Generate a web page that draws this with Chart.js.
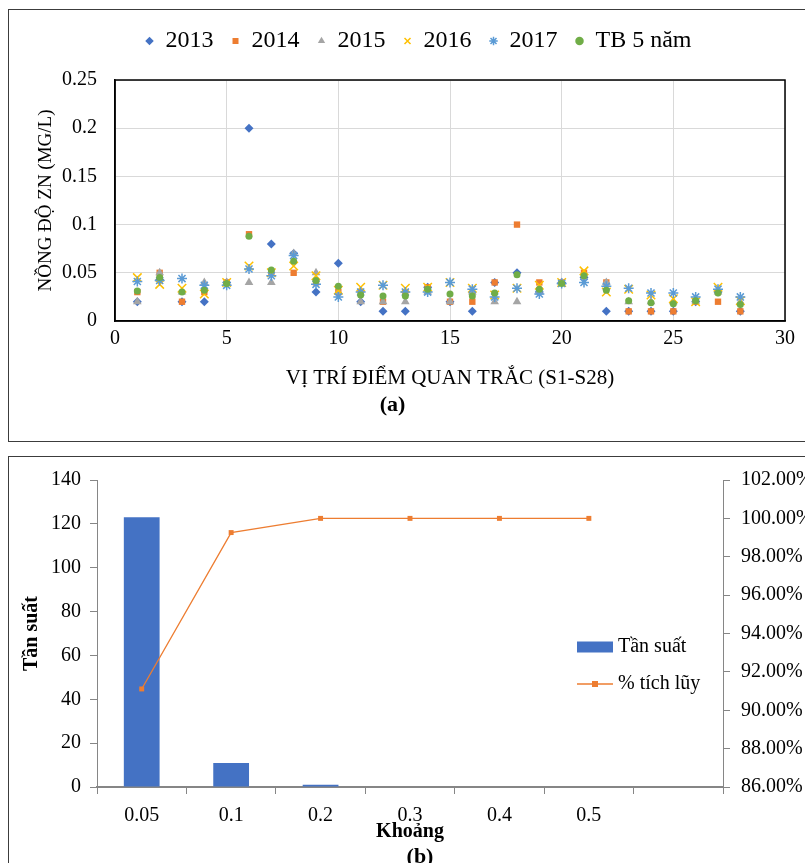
<!DOCTYPE html>
<html>
<head>
<meta charset="utf-8">
<script src="https://cdn.jsdelivr.net/npm/chart.js@4.4.1/dist/chart.umd.min.js"></script>
<style>
  html, body { margin: 0; padding: 0; background: #fff; width: 805px; height: 863px; overflow: hidden; position: relative; }
  .frame { position: absolute; left: 8px; width: 900px; border: 1px solid #3c3c3c; }
  #frameA { top: 9px; height: 431px; }
  #frameB { top: 456px; height: 500px; }
  canvas { position: absolute; left: 0; }
  #zincChart { top: 0; }
  #histChart { top: 456px; }
</style>
</head>
<body>
<div class="frame" id="frameA"></div>
<div class="frame" id="frameB"></div>
<canvas id="zincChart" width="805" height="445"></canvas>
<canvas id="histChart" width="840" height="430"></canvas>
<script>
// (a) Zn concentration at monitoring points S1-S28
const stations = [1, 2, 3, 4, 5, 6, 7, 8, 9, 10, 11, 12, 13, 14, 15, 16, 17, 18, 19, 20, 21, 22, 23, 24, 25, 26, 27, 28];
const zn2013 = [0.02, 0.043, 0.02, 0.02, 0.04, 0.2, 0.08, 0.07, 0.03, 0.06, 0.02, 0.01, 0.01, 0.035, 0.02, 0.01, 0.04, 0.05, 0.03, 0.04, 0.045, 0.01, 0.01, 0.01, 0.01, 0.02, 0.03, 0.01];
const zn2014 = [0.03, 0.05, 0.02, 0.03, 0.04, 0.09, 0.05, 0.05, 0.04, 0.03, 0.03, 0.02, 0.03, 0.035, 0.02, 0.02, 0.04, 0.1, 0.04, 0.04, 0.05, 0.04, 0.01, 0.01, 0.01, 0.02, 0.02, 0.01];
const zn2015 = [0.02, 0.05, 0.03, 0.04, 0.04, 0.04, 0.04, 0.07, 0.05, 0.03, 0.02, 0.02, 0.02, 0.03, 0.02, 0.03, 0.02, 0.02, 0.03, 0.04, 0.045, 0.04, 0.02, 0.02, 0.02, 0.02, 0.03, 0.02];
const zn2016 = [0.045, 0.038, 0.034, 0.028, 0.04, 0.057, 0.05, 0.057, 0.047, 0.032, 0.035, 0.037, 0.034, 0.035, 0.04, 0.034, 0.027, 0.034, 0.037, 0.04, 0.052, 0.03, 0.033, 0.027, 0.023, 0.02, 0.035, 0.021];
const zn2017 = [0.041, 0.042, 0.044, 0.037, 0.037, 0.054, 0.047, 0.068, 0.038, 0.025, 0.03, 0.037, 0.03, 0.03, 0.04, 0.033, 0.025, 0.034, 0.028, 0.039, 0.04, 0.036, 0.034, 0.029, 0.029, 0.025, 0.033, 0.025];
const znAvg = [0.031, 0.045, 0.03, 0.032, 0.039, 0.088, 0.053, 0.062, 0.042, 0.036, 0.027, 0.026, 0.026, 0.033, 0.028, 0.026, 0.029, 0.048, 0.033, 0.039, 0.047, 0.032, 0.021, 0.019, 0.018, 0.021, 0.029, 0.017];
const seriesNames = ['2013', '2014', '2015', '2016', '2017', 'TB 5 năm'];

// (b) frequency histogram
const bins = ['0.05', '0.1', '0.2', '0.3', '0.4', '0.5', ''];
const freq = [123, 11, 1, 0, 0, 0, null];
const cumPct = [91.11, 99.26, 100, 100, 100, 100, null];
const histLabels = ['Tần suất', '% tích lũy'];

Chart.defaults.font.family = '"Liberation Serif", "Times New Roman", serif';
Chart.defaults.color = '#000';

const toPoints = arr => stations.map((s, i) => ({ x: s, y: arr[i] }));

// frame around plot area of (a)
const plotFrame = {
    id: 'plotFrame',
    beforeDatasetsDraw(chart) {
        const { ctx, chartArea: a } = chart;
        ctx.save();
        ctx.strokeStyle = '#000';
        ctx.lineWidth = 1.5;
        ctx.strokeRect(a.left, a.top, a.right - a.left, a.bottom - a.top);
        ctx.restore();
    }
};

// extra room under the legend of (a), and nudge it right a bit
const legendGap = {
    id: 'legendGap',
    beforeInit(chart) {
        const legend = chart.legend;
        const fit = legend.fit;
        legend.fit = function () {
            fit.call(this);
            this.height += 17;
        };
        const draw = legend.draw;
        legend.draw = function (...args) {
            this.ctx.save();
            this.ctx.translate(26, 0);
            draw.apply(this, args);
            this.ctx.restore();
        };
    }
};

const ctxZinc = document.getElementById('zincChart').getContext('2d');
new Chart(ctxZinc, {
    type: 'scatter',
    data: {
        datasets: [{
            label: seriesNames[0],
            data: toPoints(zn2013),
            pointStyle: 'rectRot', pointRadius: 4.5, borderWidth: 0,
            backgroundColor: '#4472C4', borderColor: '#4472C4', order: 5
        }, {
            label: seriesNames[1],
            data: toPoints(zn2014),
            pointStyle: 'rect', pointRadius: 4.5, borderWidth: 0,
            backgroundColor: '#ED7D31', borderColor: '#ED7D31', order: 4
        }, {
            label: seriesNames[2],
            data: toPoints(zn2015),
            pointStyle: 'triangle', pointRadius: 5, borderWidth: 0,
            backgroundColor: '#A5A5A5', borderColor: '#A5A5A5', order: 3
        }, {
            label: seriesNames[3],
            data: toPoints(zn2016),
            pointStyle: 'crossRot', pointRadius: 6, borderWidth: 1.5,
            backgroundColor: '#FFC000', borderColor: '#FFC000', order: 2
        }, {
            label: seriesNames[4],
            data: toPoints(zn2017),
            pointStyle: 'star', pointRadius: 5, borderWidth: 1.5,
            backgroundColor: '#5B9BD5', borderColor: '#5B9BD5', order: 1
        }, {
            label: seriesNames[5],
            data: toPoints(znAvg),
            pointStyle: 'circle', pointRadius: 3.5, borderWidth: 0,
            backgroundColor: '#70AD47', borderColor: '#70AD47', order: 0
        }]
    },
    options: {
        responsive: false,
        animation: false,
        layout: { padding: { top: 11, left: 0, right: 20, bottom: 0 } },
        plugins: {
            legend: {
                position: 'top',
                labels: {
                    usePointStyle: true,
                    boxWidth: 8,
                    boxHeight: 6,
                    padding: 18,
                    font: { size: 24 },
                    sort: (a, b) => a.datasetIndex - b.datasetIndex
                }
            },
            title: {
                display: true,
                position: 'bottom',
                text: '(a)',
                font: { size: 22, weight: 'bold' },
                padding: { top: 1, bottom: 26.6 }
            },
            tooltip: { enabled: false }
        },
        scales: {
            x: {
                type: 'linear',
                min: 0, max: 30,
                ticks: { stepSize: 5, font: { size: 20 }, padding: 6 },
                grid: { color: '#d9d9d9', drawTicks: false },
                border: { color: '#000', width: 1.5 },
                title: {
                    display: true,
                    text: 'VỊ TRÍ ĐIỂM QUAN TRẮC (S1-S28)',
                    font: { size: 21 },
                    padding: { top: 0, bottom: 0 }
                },
                afterFit(scale) { scale.height = 70; }
            },
            y: {
                min: 0, max: 0.25,
                ticks: {
                    stepSize: 0.05,
                    font: { size: 20 },
                    padding: 18,
                    callback: v => String(Math.round(v * 100) / 100)
                },
                grid: { color: '#d9d9d9', drawTicks: false },
                border: { color: '#000', width: 1.5 },
                title: {
                    display: true,
                    text: 'NỒNG ĐỘ ZN (MG/L)',
                    font: { size: 19 },
                    padding: { top: 35, bottom: 0 }
                },
                afterFit(scale) { scale.width = 115; }
            }
        }
    },
    plugins: [plotFrame, legendGap]
});

// legend of (b), drawn inside the plot area
const histLegend = {
    id: 'histLegend',
    afterDraw(chart) {
        const { ctx, chartArea: a } = chart;
        const x = a.right - 146;
        const y1 = a.top + 167;
        const y2 = a.top + 204;
        ctx.save();
        ctx.fillStyle = '#4472C4';
        ctx.fillRect(x, y1 - 5.5, 36, 11);
        ctx.strokeStyle = '#ED7D31';
        ctx.lineWidth = 1.5;
        ctx.beginPath();
        ctx.moveTo(x, y2);
        ctx.lineTo(x + 36, y2);
        ctx.stroke();
        ctx.fillStyle = '#ED7D31';
        ctx.fillRect(x + 15, y2 - 3, 6, 6);
        ctx.fillStyle = '#000';
        ctx.font = '20px "Liberation Serif", "Times New Roman", serif';
        ctx.textBaseline = 'middle';
        ctx.fillText(histLabels[0], x + 41, y1);
        ctx.fillText(histLabels[1], x + 41, y2);
        ctx.restore();
    }
};

const ctxHist = document.getElementById('histChart').getContext('2d');
new Chart(ctxHist, {
    type: 'bar',
    data: {
        labels: bins,
        datasets: [{
            type: 'bar',
            label: histLabels[0],
            data: freq,
            backgroundColor: '#4472C4',
            barPercentage: 0.4,
            categoryPercentage: 1,
            yAxisID: 'y',
            order: 1
        }, {
            type: 'line',
            label: histLabels[1],
            data: cumPct,
            borderColor: '#ED7D31',
            backgroundColor: '#ED7D31',
            borderWidth: 1.3,
            pointStyle: 'rect',
            pointRadius: 3.5,
            pointBorderWidth: 0,
            yAxisID: 'y1',
            order: 0
        }]
    },
    options: {
        responsive: false,
        animation: false,
        layout: { padding: { top: 24, left: 0, right: 0, bottom: 0 } },
        plugins: {
            legend: { display: false },
            title: {
                display: true,
                position: 'bottom',
                text: '(b)',
                font: { size: 22, weight: 'bold' },
                padding: { top: 0, bottom: 15.6 }
            },
            tooltip: { enabled: false }
        },
        scales: {
            x: {
                offset: true,
                ticks: { font: { size: 20 }, padding: 10 },
                grid: { offset: true, drawOnChartArea: false, tickLength: 7, color: '#868686' },
                border: { color: '#868686', width: 2 },
                title: {
                    display: true,
                    text: 'Khoảng',
                    font: { size: 20, weight: 'bold' },
                    padding: { top: 0, bottom: 0 }
                },
                afterFit(scale) { scale.height = 57; }
            },
            y: {
                position: 'left',
                min: 0, max: 140,
                ticks: { stepSize: 20, font: { size: 20 }, padding: 9 },
                grid: { drawOnChartArea: false, tickLength: 7, color: '#868686' },
                border: { color: '#868686', width: 1 },
                title: {
                    display: true,
                    text: 'Tần suất',
                    font: { size: 20, weight: 'bold' },
                    padding: { top: 20, bottom: 0 }
                },
                afterFit(scale) { scale.width = 97; }
            },
            y1: {
                position: 'right',
                min: 86, max: 102,
                ticks: {
                    stepSize: 2,
                    font: { size: 20 },
                    padding: 11,
                    callback: v => v.toFixed(2) + '%'
                },
                grid: { drawOnChartArea: false, tickLength: 7, color: '#868686' },
                border: { color: '#868686', width: 1 },
                afterFit(scale) { scale.width = 117; }
            }
        }
    },
    plugins: [histLegend]
});
</script>
</body>
</html>
